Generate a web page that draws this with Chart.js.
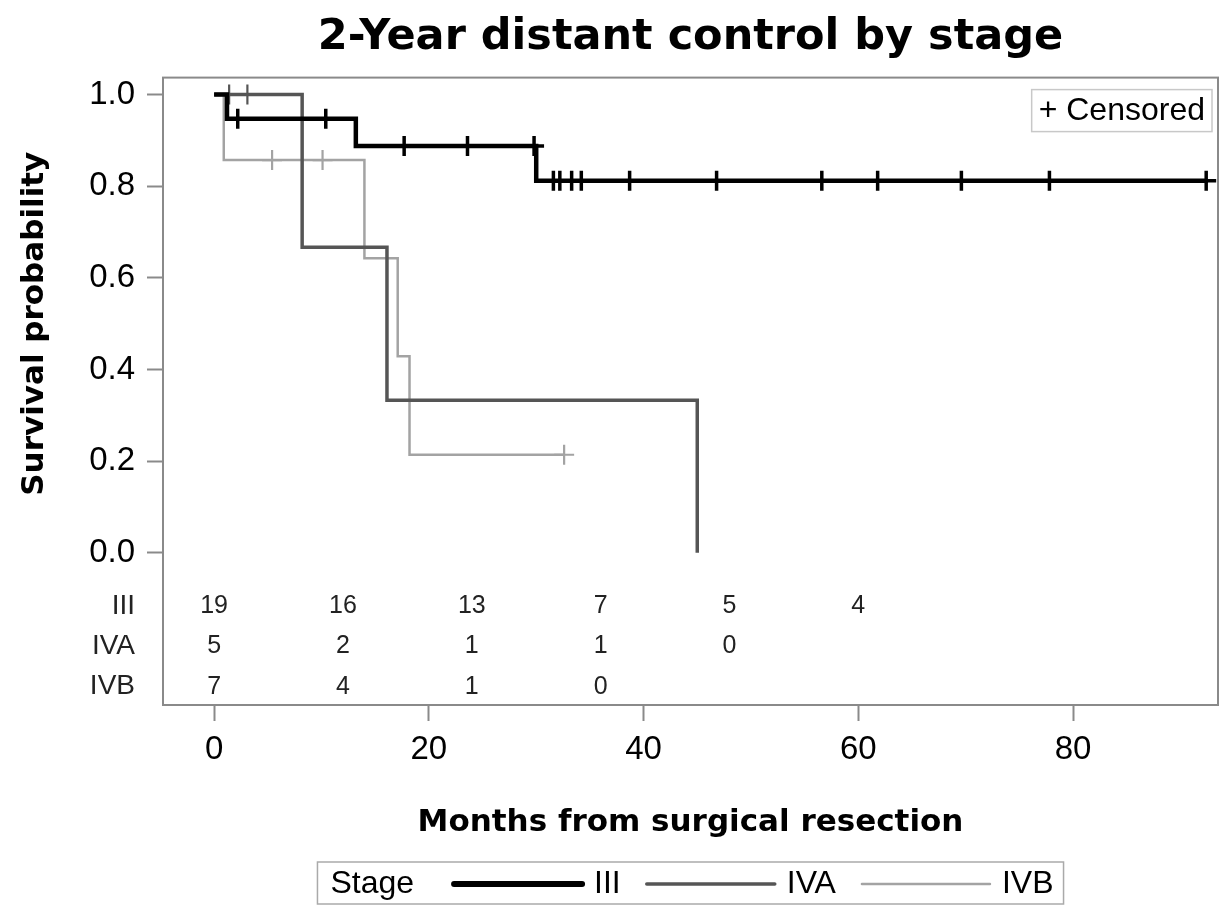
<!DOCTYPE html>
<html>
<head>
<meta charset="utf-8">
<script src="https://cdn.jsdelivr.net/npm/chart.js@4.4.1/dist/chart.umd.min.js"></script>
<style>
  html, body { margin: 0; padding: 0; background: #fff; overflow: hidden; }
  canvas { display: block; }
</style>
</head>
<body>
<canvas id="km" width="1224" height="906"></canvas>
<script>
'use strict';

var stages = ['III', 'IVA', 'IVB'];

// step points (months, survival)
var stepTimesIII = [0, 1.2, 13.2, 30.0, 92.4];
var stepSurvIII  = [1, 0.947, 0.888, 0.812, 0.812];
var stepTimesIVA = [0, 8.2, 16.1, 45.0];
var stepSurvIVA  = [1, 0.667, 0.333, 0];
var stepTimesIVB = [0, 0.9, 14.0, 17.1, 18.2, 32.6];
var stepSurvIVB  = [1, 0.857, 0.643, 0.429, 0.214, 0.214];

// censored observations
var censorTimesIII = [2.2, 10.4, 17.7, 23.6, 29.8, 31.6, 32.2, 33.3, 34.2, 38.7, 46.8, 56.6, 61.8, 69.6, 77.8, 92.4];
var censorSurvIII  = [0.947, 0.947, 0.888, 0.888, 0.888, 0.812, 0.812, 0.812, 0.812, 0.812, 0.812, 0.812, 0.812, 0.812, 0.812, 0.812];
var censorTimesIVA = [1.4, 3.1];
var censorSurvIVA  = [1, 1];
var censorTimesIVB = [5.4, 10.1, 32.6];
var censorSurvIVB  = [0.857, 0.857, 0.214];

// number at risk
var riskTimes = [0, 12, 24, 36, 48, 60];
var riskIII = [19, 16, 13, 7, 5, 4];
var riskIVA = [5, 2, 1, 1, 0];
var riskIVB = [7, 4, 1, 0];

var xTicks = [0, 20, 40, 60, 80];
var yTicks = [0, 0.2, 0.4, 0.6, 0.8, 1.0];

var colors = ['#000000', '#555555', '#a3a3a3'];
var widths = [4.5, 3.5, 2.5];

var SANS = '"Liberation Sans", Arial, sans-serif';
var BOLD = '"DejaVu Sans", Verdana, sans-serif';

function pts(xs, ys) {
  return xs.map(function (x, i) { return {x: x, y: ys[i]}; });
}

var curves = [
  pts(stepTimesIII, stepSurvIII),
  pts(stepTimesIVA, stepSurvIVA),
  pts(stepTimesIVB, stepSurvIVB)
];
var censors = [
  pts(censorTimesIII, censorSurvIII),
  pts(censorTimesIVA, censorSurvIVA),
  pts(censorTimesIVB, censorSurvIVB)
];
var risks = [riskIII, riskIVA, riskIVB];

var datasets = [];
stages.forEach(function (s, i) {
  datasets.push({
    label: s,
    data: curves[i],
    stepped: 'before',
    borderColor: colors[i],
    borderWidth: widths[i],
    pointRadius: 0,
    fill: false
  });
  datasets.push({
    label: s + ' censored',
    data: censors[i],
    showLine: false,
    pointStyle: 'cross',
    pointRadius: 10,
    pointBorderWidth: i === 0 ? 3.5 : 2.2,
    pointBorderColor: colors[i],
    pointBackgroundColor: colors[i]
  });
});

// frame, number-at-risk table, y title, censored note and the bottom legend
var kmExtras = {
  id: 'kmExtras',
  afterDraw: function (chart) {
    var ctx = chart.ctx;
    var a = chart.chartArea;
    var xs = chart.scales.x, ys = chart.scales.y;
    ctx.save();

    ctx.strokeStyle = '#8a8a8a';
    ctx.lineWidth = 2;
    ctx.strokeRect(a.left, a.top, a.right - a.left, a.bottom - a.top);

    // at-risk rows
    var rowY = [-0.116, -0.204, -0.292];
    ctx.fillStyle = '#222';
    ctx.textBaseline = 'middle';
    stages.forEach(function (s, r) {
      var py = ys.getPixelForValue(rowY[r]);
      ctx.font = '25px ' + SANS;
      ctx.textAlign = 'center';
      risks[r].forEach(function (n, k) {
        ctx.fillText(String(n), xs.getPixelForValue(riskTimes[k]), py);
      });
      ctx.font = '28px ' + SANS;
      ctx.textAlign = 'right';
      ctx.fillText(s, 135, py);
    });

    // y-axis title, centred on the 0..1 range
    ctx.save();
    ctx.translate(35, ys.getPixelForValue(0.5));
    ctx.rotate(-Math.PI / 2);
    ctx.font = 'bold 31px ' + BOLD;
    ctx.fillStyle = '#000';
    ctx.textAlign = 'center';
    ctx.fillText('Survival probability', 0, 0);
    ctx.restore();

    // censored note
    ctx.font = '32px ' + SANS;
    ctx.textAlign = 'left';
    var tw = ctx.measureText('+ Censored').width;
    var bx = a.right - 6 - tw - 14, by = a.top + 12;
    ctx.strokeStyle = '#c8c8c8';
    ctx.lineWidth = 1.5;
    ctx.strokeRect(bx, by, tw + 14, 42);
    ctx.fillStyle = '#000';
    ctx.fillText('+ Censored', bx + 7, by + 22);

    // legend
    var lineLen = 128;
    ctx.font = '32px ' + SANS;
    var w = 13 + ctx.measureText('Stage').width + 40;
    stages.forEach(function (s, i) {
      w += lineLen + 12 + ctx.measureText(s).width + (i < 2 ? 26 : 10);
    });
    var lx = (a.left + a.right) / 2 - w / 2, ly = 862, lh = 42;
    ctx.strokeStyle = '#aaaaaa';
    ctx.lineWidth = 1.5;
    ctx.strokeRect(lx, ly, w, lh);
    var cy = ly + lh / 2 + 1;
    var cx = lx + 13;
    ctx.fillStyle = '#000';
    ctx.fillText('Stage', cx, cy);
    cx += ctx.measureText('Stage').width + 40;
    stages.forEach(function (s, i) {
      ctx.beginPath();
      ctx.strokeStyle = colors[i];
      ctx.lineWidth = i === 0 ? 6 : widths[i];
      ctx.lineCap = 'round';
      ctx.moveTo(cx, cy);
      ctx.lineTo(cx + lineLen, cy);
      ctx.stroke();
      cx += lineLen + 12;
      ctx.fillStyle = '#000';
      ctx.fillText(s, cx, cy);
      cx += ctx.measureText(s).width + 26;
    });
    ctx.restore();
  }
};

var ctx = document.getElementById('km');
var chart = new Chart(ctx, {
  type: 'line',
  data: { datasets: datasets },
  plugins: [kmExtras],
  options: {
    responsive: false,
    animation: false,
    layout: { autoPadding: false, padding: { left: 0, right: 6, top: 0, bottom: 62 } },
    plugins: {
      legend: { display: false },
      tooltip: { enabled: false },
      title: {
        display: true,
        fullSize: false,
        text: '2-Year distant control by stage',
        color: '#000',
        font: { family: BOLD, size: 43, weight: 'bold' },
        padding: { top: 12, bottom: 14 }
      }
    },
    scales: {
      x: {
        type: 'linear',
        min: -4.76,
        max: 93.5,
        afterBuildTicks: function (axis) {
          axis.ticks = xTicks.map(function (v) { return {value: v}; });
        },
        afterFit: function (axis) {
          axis.height = 139;
          axis.paddingLeft = 0;
          axis.paddingRight = 0;
        },
        grid: { drawOnChartArea: false, drawTicks: true, tickLength: 16, tickColor: '#8a8a8a', tickWidth: 2 },
        border: { display: false },
        ticks: { color: '#000', font: { family: SANS, size: 33 }, padding: 9, maxRotation: 0 },
        title: {
          display: true,
          text: 'Months from surgical resection',
          color: '#000',
          font: { family: BOLD, size: 31, weight: 'bold' },
          padding: { top: 0, bottom: 2 }
        }
      },
      y: {
        type: 'linear',
        min: -0.332,
        max: 1.037,
        afterBuildTicks: function (axis) {
          axis.ticks = yTicks.map(function (v) { return {value: v}; });
        },
        afterFit: function (axis) {
          axis.width = 163;
          axis.paddingTop = 0;
          axis.paddingBottom = 0;
        },
        grid: { drawOnChartArea: false, drawTicks: true, tickLength: 16, tickColor: '#8a8a8a', tickWidth: 2 },
        border: { display: false },
        ticks: {
          color: '#000',
          font: { family: SANS, size: 33 },
          padding: 12,
          callback: function (v) { return v.toFixed(1); }
        }
      }
    }
  }
});
</script>
</body>
</html>
